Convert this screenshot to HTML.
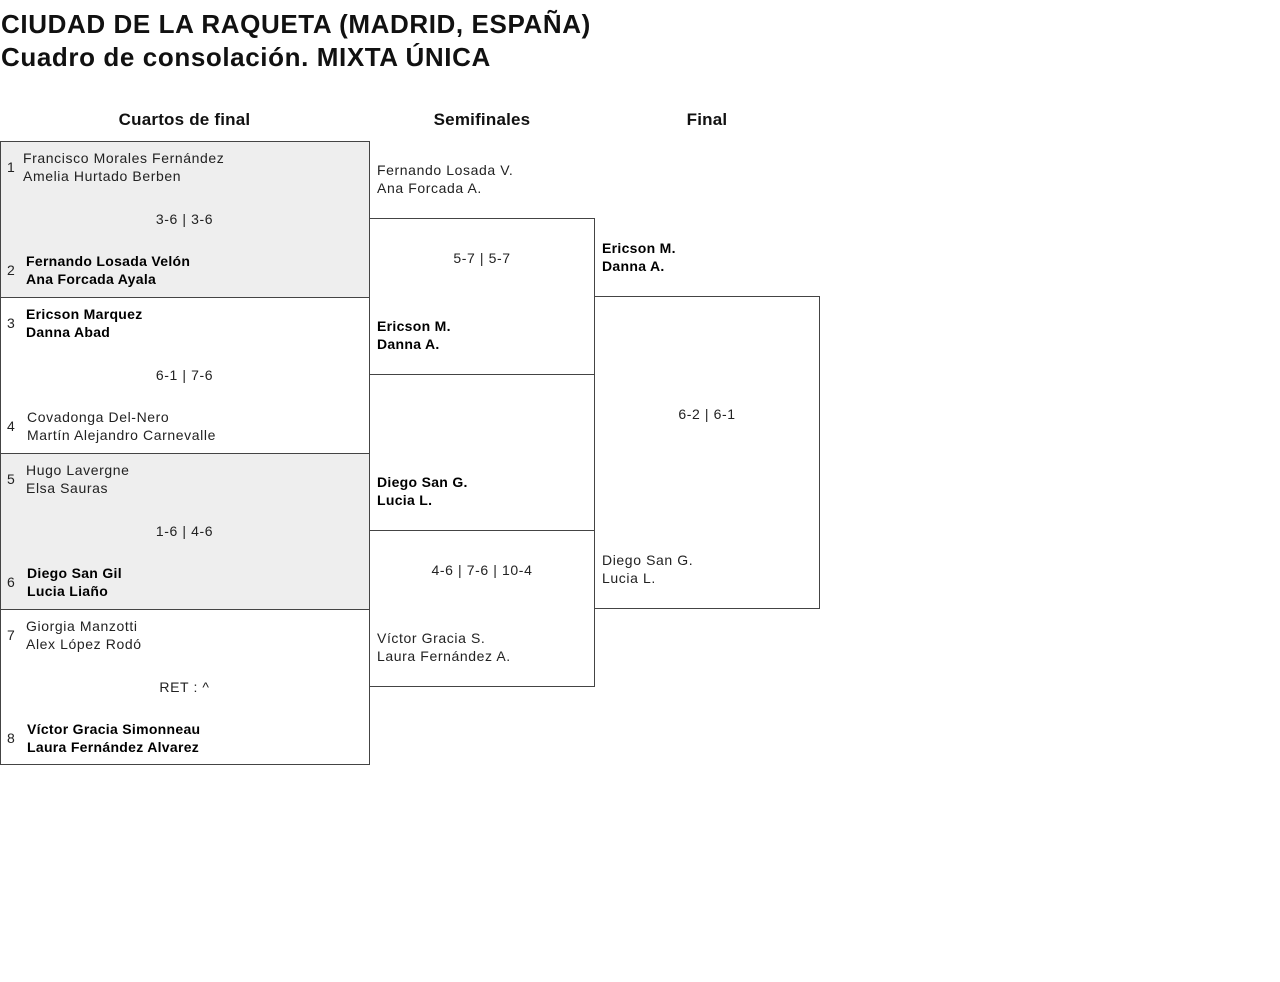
<!DOCTYPE html>
<html><head><meta charset="utf-8"><style>
body{margin:0;width:1280px;height:982px;background:#fff;font-family:"Liberation Sans",sans-serif;color:#111;position:relative;overflow:hidden}
.t{position:absolute;left:1px;font-size:26px;font-weight:bold;line-height:33px;letter-spacing:0.6px}
.h{position:absolute;top:110px;font-size:17px;font-weight:bold;text-align:center;letter-spacing:0.2px}
.b{position:absolute;border:1px solid #444;box-sizing:border-box}
.g{background:#eee}
.x{position:absolute;font-size:14px;line-height:18px;white-space:nowrap;color:#222;letter-spacing:0.6px}
.bo{font-weight:bold;color:#000;letter-spacing:0.3px}
.c{text-align:center}
</style></head><body>
<div class="t" style="top:8px">CIUDAD DE LA RAQUETA (MADRID, ESPAÑA)</div>
<div class="t" style="top:41px">Cuadro de consolación. MIXTA ÚNICA</div>
<div class="h" style="left:0;width:369px">Cuartos de final</div>
<div class="h" style="left:369px;width:226px">Semifinales</div>
<div class="h" style="left:594px;width:226px">Final</div>

<div class="b g" style="left:0;top:141px;width:370px;height:157px"></div>
<div class="b" style="left:0;top:297px;width:370px;height:157px"></div>
<div class="b g" style="left:0;top:453px;width:370px;height:157px"></div>
<div class="b" style="left:0;top:609px;width:370px;height:156px"></div>
<div class="b" style="left:369px;top:218px;width:226px;height:157px"></div>
<div class="b" style="left:369px;top:530px;width:226px;height:157px"></div>
<div class="b" style="left:594px;top:296px;width:226px;height:313px"></div>

<div class="x" style="left:7px;top:158px">1</div>
<div class="x" style="left:23px;top:149px">Francisco Morales Fernández<br>Amelia Hurtado Berben</div>
<div class="x c" style="left:0;width:369px;top:210px">3-6 | 3-6</div>
<div class="x" style="left:7px;top:261px">2</div>
<div class="x bo" style="left:26px;top:252px">Fernando Losada Velón<br>Ana Forcada Ayala</div>

<div class="x" style="left:7px;top:314px">3</div>
<div class="x bo" style="left:26px;top:305px">Ericson Marquez<br>Danna Abad</div>
<div class="x c" style="left:0;width:369px;top:366px">6-1 | 7-6</div>
<div class="x" style="left:7px;top:417px">4</div>
<div class="x" style="left:27px;top:408px">Covadonga Del-Nero<br>Martín Alejandro Carnevalle</div>

<div class="x" style="left:7px;top:470px">5</div>
<div class="x" style="left:26px;top:461px">Hugo Lavergne<br>Elsa Sauras</div>
<div class="x c" style="left:0;width:369px;top:522px">1-6 | 4-6</div>
<div class="x" style="left:7px;top:573px">6</div>
<div class="x bo" style="left:27px;top:564px">Diego San Gil<br>Lucia Liaño</div>

<div class="x" style="left:7px;top:626px">7</div>
<div class="x" style="left:26px;top:617px">Giorgia Manzotti<br>Alex López Rodó</div>
<div class="x c" style="left:0;width:369px;top:678px">RET : ^</div>
<div class="x" style="left:7px;top:729px">8</div>
<div class="x bo" style="left:27px;top:720px">Víctor Gracia Simonneau<br>Laura Fernández Alvarez</div>

<div class="x" style="left:377px;top:161px">Fernando Losada V.<br>Ana Forcada A.</div>
<div class="x c" style="left:369px;width:226px;top:249px">5-7 | 5-7</div>
<div class="x bo" style="left:377px;top:317px">Ericson M.<br>Danna A.</div>
<div class="x bo" style="left:377px;top:473px">Diego San G.<br>Lucia L.</div>
<div class="x c" style="left:369px;width:226px;top:561px">4-6 | 7-6 | 10-4</div>
<div class="x" style="left:377px;top:629px">Víctor Gracia S.<br>Laura Fernández A.</div>

<div class="x bo" style="left:602px;top:239px">Ericson M.<br>Danna A.</div>
<div class="x c" style="left:594px;width:226px;top:405px">6-2 | 6-1</div>
<div class="x" style="left:602px;top:551px">Diego San G.<br>Lucia L.</div>
</body></html>
